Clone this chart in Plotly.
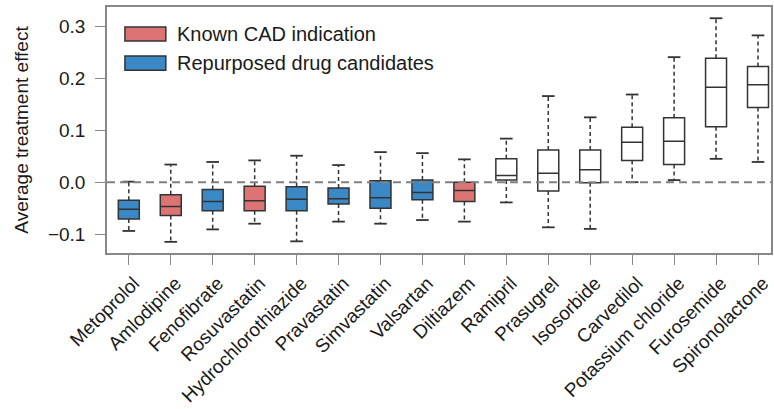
import plotly.graph_objects as go

drugs = ["Metoprolol", "Amlodipine", "Fenofibrate", "Rosuvastatin", "Hydrochlorothiazide",
         "Pravastatin", "Simvastatin", "Valsartan", "Diltiazem", "Ramipril", "Prasugrel",
         "Isosorbide", "Carvedilol", "Potassium chloride", "Furosemide", "Spironolactone"]
group = ["rep", "cad", "rep", "cad", "rep", "rep", "rep", "rep", "cad",
         "none", "none", "none", "none", "none", "none", "none"]
q1 = [-0.071, -0.064, -0.055, -0.055, -0.055, -0.042, -0.050, -0.034, -0.037,
      0.004, -0.017, -0.001, 0.042, 0.034, 0.107, 0.144]
med = [-0.052, -0.047, -0.037, -0.036, -0.033, -0.032, -0.030, -0.020, -0.016,
       0.013, 0.017, 0.024, 0.077, 0.079, 0.183, 0.188]
q3 = [-0.035, -0.024, -0.014, -0.008, -0.009, -0.011, 0.003, 0.004, 0.000,
      0.045, 0.062, 0.062, 0.106, 0.124, 0.239, 0.223]
wlo = [-0.094, -0.115, -0.091, -0.080, -0.114, -0.076, -0.080, -0.073, -0.076,
       -0.039, -0.087, -0.090, 0.000, 0.004, 0.045, 0.039]
whi = [0.001, 0.034, 0.039, 0.042, 0.051, 0.033, 0.058, 0.056, 0.044,
       0.084, 0.166, 0.125, 0.169, 0.241, 0.316, 0.283]
yticks = [-0.1, 0.0, 0.1, 0.2, 0.3]
legend_labels = ["Known CAD indication", "Repurposed drug candidates"]

RED = "#dc7474"
BLUE = "#3a89c6"
EDGE = "#333333"
TXT = "#1a1a1a"
FONT = "Liberation Sans, Arial, Helvetica, sans-serif"
fills = {"cad": RED, "rep": BLUE, "none": "#ffffff"}

fig = go.Figure()

# dashed whiskers
for i, d in enumerate(drugs):
    fig.add_trace(go.Scatter(
        x=[d, d, None, d, d], y=[q3[i], whi[i], None, q1[i], wlo[i]],
        mode="lines", line=dict(color=EDGE, width=1.5, dash="4px,3px"),
        showlegend=False, hoverinfo="skip"))
# whisker caps
fig.add_trace(go.Scatter(
    x=drugs + drugs, y=whi + wlo, mode="markers",
    marker=dict(symbol="line-ew", size=9, line=dict(color=EDGE, width=1.8)),
    showlegend=False, hoverinfo="skip"))

for g in ["cad", "rep", "none"]:
    idx = [i for i, v in enumerate(group) if v == g]
    fig.add_trace(go.Box(
        x=[drugs[i] for i in idx],
        q1=[q1[i] for i in idx], median=[med[i] for i in idx], q3=[q3[i] for i in idx],
        lowerfence=[q1[i] for i in idx], upperfence=[q3[i] for i in idx],
        fillcolor=fills[g], line=dict(color=EDGE, width=1.5), width=0.5,
        showlegend=False, hoverinfo="skip"))

# zero reference line
fig.add_shape(type="line", xref="paper", yref="y", x0=0, x1=1, y0=0, y1=0,
              line=dict(color="#808080", width=2, dash="8px,5px"), layer="above")

# manual legend
leg_y = [(0.862, 0.919), (0.743, 0.801)]
leg_col = [RED, BLUE]
for (y0, y1), col, lab in zip(leg_y, leg_col, legend_labels):
    fig.add_shape(type="rect", xref="paper", yref="paper", x0=0.027, x1=0.0886,
                  y0=y0, y1=y1, fillcolor=col, line=dict(color=EDGE, width=1.5))
    fig.add_annotation(xref="paper", yref="paper", x=0.102, y=(y0 + y1) / 2,
                       text=lab, showarrow=False, xanchor="left", yanchor="middle",
                       font=dict(family=FONT, size=20, color=TXT))

fig.update_layout(
    width=774, height=409,
    margin=dict(l=107, r=1, t=7, b=156),
    paper_bgcolor="white", plot_bgcolor="white",
    boxmode="overlay",
    font=dict(family=FONT, size=19, color=TXT),
    xaxis=dict(categoryorder="array", categoryarray=drugs, range=[-0.52, 15.31],
               tickangle=-45, ticks="outside", ticklen=10, tickcolor="#888888",
               tickwidth=1.2, showline=True, linecolor="#888888", linewidth=1.5,
               mirror=True, showgrid=False, zeroline=False, ticklabelshift=5,
               tickfont=dict(family=FONT, size=19, color=TXT)),
    yaxis=dict(range=[-0.1365, 0.3377], tickvals=yticks, tickformat=".1f",
               ticks="outside", ticklen=10, tickcolor="#888888", tickwidth=1.2,
               showline=True, linecolor="#888888", linewidth=1.5, mirror=True,
               showgrid=False, zeroline=False, ticklabelstandoff=6,
               title=dict(text="Average treatment effect", standoff=14,
                          font=dict(family=FONT, size=19, color=TXT)),
               tickfont=dict(family=FONT, size=19, color=TXT)),
)

fig.write_html("out.html")
